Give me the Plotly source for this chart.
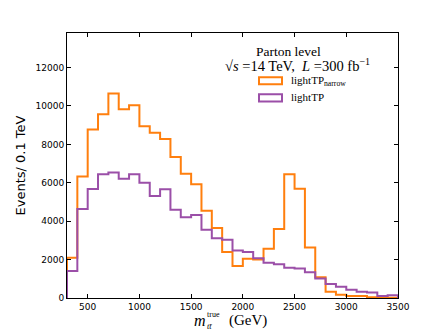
import plotly.graph_objects as go

# ---- data ----
bin_edges = [300 + 100 * i for i in range(33)]
light_tp_narrow = [2100, 6330, 8770, 9570, 10650, 9830, 10040, 8940, 8600, 8280,
                   7340, 6470, 5930, 4540, 3650, 2400, 1670, 2050, 2000, 2570,
                   3590, 6450, 5690, 2630, 1080, 330, 170, 100, 100, 40, 20, 10]
light_tp = [1410, 4630, 5670, 6440, 6540, 6210, 6440, 6000, 5310, 5660,
            4590, 4210, 4320, 3550, 3110, 3030, 2470, 2400, 2070, 1840,
            1760, 1580, 1530, 1340, 1010, 730, 590, 435, 330, 280, 100, 140]
x_ticks = [500, 1000, 1500, 2000, 2500, 3000, 3500]
y_ticks = [0, 2000, 4000, 6000, 8000, 10000, 12000]
y_tick_labels = ["0", "2000", "4000", "6000", "8000", "10000", "12000"]
x_tick_labels = ["500", "1000", "1500", "2000", "2500", "3000", "3500"]

W, H = 443, 332
L, R, T, B = 67, 45, 33, 34
PW, PH = W - L - R, H - T - B

ORANGE = "#ff7f0e"
PURPLE = "#9b4fa8"


def step_xy(edges, vals):
    xs = [edges[0]] + list(edges) + [edges[-1]]
    ys = [0] + list(vals) + [vals[-1], 0]
    return xs, ys


def px(x):
    return (x - L) / PW


def py(y):
    return (H - B - y) / PH


fig = go.Figure()
for vals, col, name in [(light_tp_narrow, ORANGE, "lightTP_narrow"),
                        (light_tp, PURPLE, "lightTP")]:
    xs, ys = step_xy(bin_edges, vals)
    fig.add_trace(go.Scatter(x=xs, y=ys, mode="lines", line_shape="hv",
                             line=dict(color=col, width=2), name=name,
                             showlegend=False, hoverinfo="skip"))

axis_common = dict(showline=True, linecolor="black", linewidth=1, mirror="ticks",
                   ticks="inside", ticklen=4, tickwidth=1, tickcolor="black",
                   showgrid=False, zeroline=False,
                   tickfont=dict(family="DejaVu Sans", size=9, color="black"))
fig.update_xaxes(range=[300, 3500], tickvals=x_ticks, ticktext=x_tick_labels, **axis_common)
fig.update_yaxes(range=[0, 13800], tickvals=y_ticks, ticktext=y_tick_labels, **axis_common)

serif = "Liberation Serif"
ann = []
# y title
ann.append(dict(text="Events/ 0.1 TeV", xref="paper", yref="paper", x=px(20), y=0.5,
                textangle=-90, showarrow=False, xanchor="center", yanchor="middle",
                font=dict(family="DejaVu Sans", size=13, color="black")))
# x title pieces
ann.append(dict(text="<i>m</i>", x=px(200), y=py(320), font=dict(family=serif, size=16)))
ann.append(dict(text="true", x=px(213), y=py(314), font=dict(family=serif, size=8)))
ann.append(dict(text="<i>tt\u0304</i>", x=px(209), y=py(326), font=dict(family=serif, size=8)))
ann.append(dict(text="(GeV)", x=px(248), y=py(320), font=dict(family=serif, size=15)))
# legend title
ann.append(dict(text="Parton level", x=px(288.5), y=py(51), font=dict(family=serif, size=13.5)))
ann.append(dict(text="\u221a<i>s</i> =14 TeV,  <i>L</i> =300 fb<sup>\u22121</sup>",
                x=px(297.5), y=py(64.5), font=dict(family=serif, size=14.5)))
# legend entries
ann.append(dict(text="lightTP<sub>narrow</sub>", x=px(289), y=py(81), xanchor="left",
                font=dict(family=serif, size=11)))
ann.append(dict(text="lightTP", x=px(289), y=py(97.5), xanchor="left",
                font=dict(family=serif, size=11)))
for a in ann:
    a.setdefault("xref", "paper")
    a.setdefault("yref", "paper")
    a.setdefault("showarrow", False)
    a.setdefault("xanchor", "center")
    a.setdefault("yanchor", "middle")
    a["font"].setdefault("color", "black")

shapes = []
for (y0, y1), col in [((77.3, 84.3), ORANGE), ((94.3, 101.5), PURPLE)]:
    shapes.append(dict(type="rect", xref="paper", yref="paper",
                       x0=px(259), x1=px(282), y0=py(y1), y1=py(y0),
                       line=dict(color=col, width=2), fillcolor="rgba(0,0,0,0)"))

fig.update_layout(width=W, height=H, margin=dict(l=L, r=R, t=T, b=B),
                  plot_bgcolor="white", paper_bgcolor="white",
                  annotations=ann, shapes=shapes, showlegend=False)
fig.write_html("out.html", config={"displayModeBar": False},
               post_script="document.body.style.margin='0';document.body.style.overflow='hidden';")
